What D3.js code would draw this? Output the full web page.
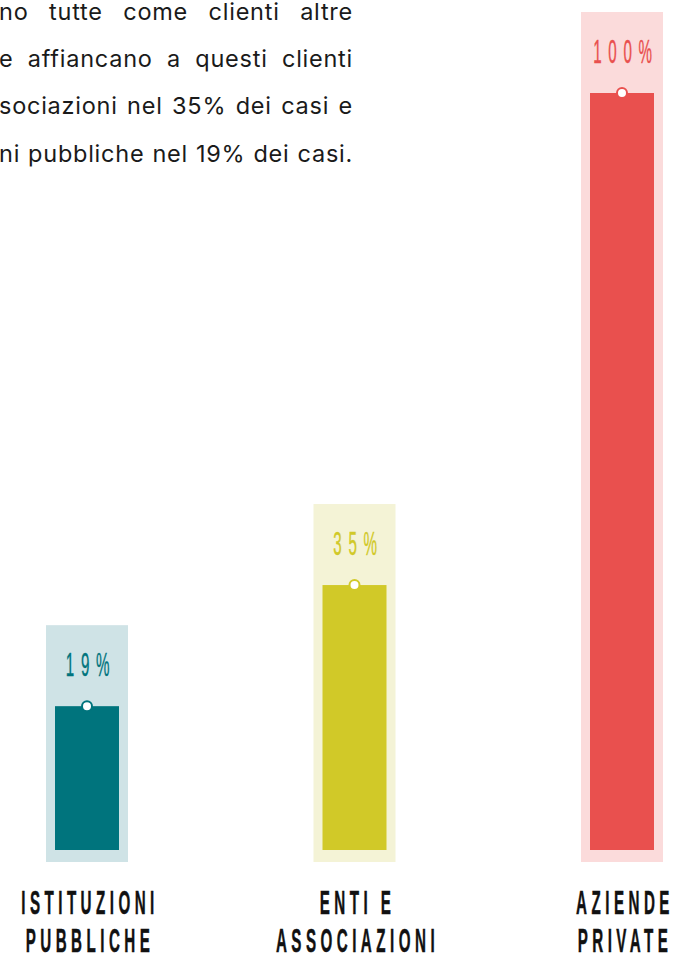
<!DOCTYPE html>
<html>
<head>
<meta charset="utf-8">
<script src="https://cdn.jsdelivr.net/npm/d3@7"></script>
<style>
  html, body { margin: 0; padding: 0; background: #ffffff; }
  svg { display: block; }
</style>
</head>
<body>
<script>
// ---- data ----
const categories = ["Istituzioni pubbliche", "Enti e associazioni", "Aziende private"];
const labelLines = [["ISTITUZIONI", "PUBBLICHE"], ["ENTI E", "ASSOCIAZIONI"], ["AZIENDE", "PRIVATE"]];
const values = [19, 35, 100];
const valueLabels = ["19%", "35%", "100%"];
const barColors = ["#00747d", "#d1c928", "#e9504e"];
const bgColors = ["#cfe3e6", "#f4f3d6", "#fbdbdb"];
const paragraphLines = [
  "no tutte come clienti altre",
  "e affiancano a questi clienti",
  "sociazioni nel 35% dei casi e",
  "ni pubbliche nel 19% dei casi."
];

// ---- layout ----
const W = 673, H = 954;
const svg = d3.select("body").append("svg").attr("width", W).attr("height", H);

const x = d3.scalePoint().domain(categories).range([87, 622]);
const y = d3.scaleLinear().domain([0, 100]).range([850, 93]);
const barW = 64, bgPad = 9, bgTop = 81, bgBottom = 12;

// paragraph (justified, cut on the left)
const para = svg.append("g");
const paraRight = 353, paraLeft = -1;
paragraphLines.forEach((line, i) => {
  const t = para.append("text")
    .attr("x", paraRight)
    .attr("y", 20 + i * 47.2)
    .attr("text-anchor", "end")
    .style("font-family", "Inter, 'Noto Sans', sans-serif")
    .style("font-size", "23.5px")
    .style("letter-spacing", "0.75px")
    .style("fill", "#1a1a1a")
    .text(line);
  const natural = t.node().getComputedTextLength();
  const spaces = (line.match(/ /g) || []).length;
  const ws = (paraRight - paraLeft - natural) / spaces;
  if (spaces > 0) t.style("word-spacing", ws + "px");
});

// bars
const g = svg.append("g");
const condensed = "'Liberation Sans', Arial, sans-serif";
categories.forEach((c, i) => {
  const cx = x(c);
  const top = y(values[i]);
  g.append("rect")
    .attr("x", cx - barW / 2 - bgPad)
    .attr("y", top - bgTop)
    .attr("width", barW + bgPad * 2)
    .attr("height", y(0) + bgBottom - (top - bgTop))
    .attr("fill", bgColors[i]);
  g.append("rect")
    .attr("x", cx - barW / 2)
    .attr("y", top)
    .attr("width", barW)
    .attr("height", y(0) - top)
    .attr("fill", barColors[i]);
  g.append("circle")
    .attr("cx", cx)
    .attr("cy", top)
    .attr("r", 5)
    .attr("fill", "#ffffff")
    .attr("stroke", barColors[i])
    .attr("stroke-width", 2);
  // value label
  g.append("text")
    .attr("transform", `translate(${cx + 4},${top - 30}) scale(0.46,1)`)
    .attr("text-anchor", "middle")
    .style("font-family", condensed)
    .style("font-size", "33px")
    .style("letter-spacing", "14.5px")
    .style("fill", barColors[i])
    .style("stroke", barColors[i])
    .style("stroke-width", "0.4px")
    .text(valueLabels[i]);
  // category label
  labelLines[i].forEach((ln, j) => {
    g.append("text")
      .attr("transform", `translate(${cx + 3},${914 + j * 37.5}) scale(0.46,1)`)
      .attr("text-anchor", "middle")
      .style("font-family", condensed)
      .style("font-size", "33px")
      .style("font-weight", "bold")
      .style("letter-spacing", "9.7px")
      .style("fill", "#111111")
      .style("stroke", "#111111")
      .style("stroke-width", "0.5px")
      .text(ln);
  });
});
</script>
</body>
</html>
